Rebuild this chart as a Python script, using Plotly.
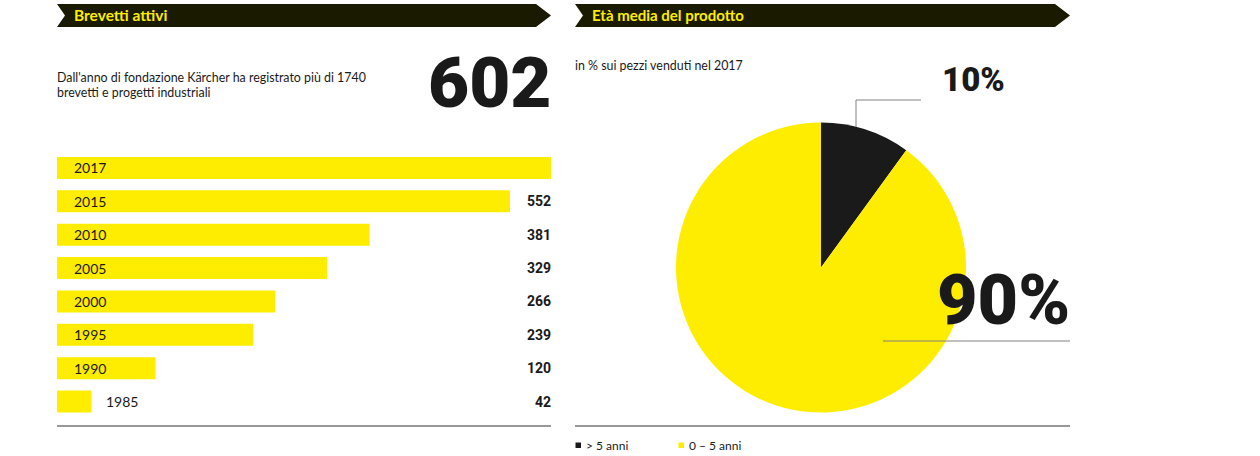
import plotly.graph_objects as go

years = ["2017", "2015", "2010", "2005", "2000", "1995", "1990", "1985"]
patents = [602, 552, 381, 329, 266, 239, 120, 42]
shown_values = ["", "552", "381", "329", "266", "239", "120", "42"]
age_labels = ["> 5 anni", "0 – 5 anni"]
age_shares = [10, 90]

W, H = 1260, 456
YELLOW, BLACK, HEAD = "#FFED00", "#1A1A1A", "#1A1A00"
TXT = "Lato, Roboto, sans-serif"
HEAVY = "Roboto, Lato, sans-serif"

def px(x): return x / W
def py(y): return 1 - y / H

fig = go.Figure()
fig.add_trace(go.Bar(y=years, x=patents, orientation="h", marker=dict(color=YELLOW, line_width=0),
                     hoverinfo="skip", showlegend=False))
fig.add_trace(go.Pie(labels=age_labels, values=age_shares, sort=False, direction="clockwise", rotation=0,
                     marker=dict(colors=[BLACK, YELLOW], line_width=0), textinfo="none",
                     domain=dict(x=[px(676), px(966)], y=[py(412.5), py(122.5)]),
                     showlegend=False, hoverinfo="skip"))

shapes, ann = [], []

def text(x, y, s, size, color=BLACK, anchor="left", family=TXT, weight=400):
    ann.append(dict(xref="paper", yref="paper", x=px(x), y=py(y), text=s, showarrow=False, xanchor=anchor,
                    yanchor="middle", borderpad=0, borderwidth=0,
                    font=dict(family=family, size=size, color=color, weight=weight)))

def line(x0, y0, x1, y1, color="#808080", width=1):
    shapes.append(dict(type="line", xref="paper", yref="paper", x0=px(x0), y0=py(y0), x1=px(x1), y1=py(y1),
                       line=dict(color=color, width=width)))

def banner(x0, x1, label, size):
    pts = [(x0, 4), (x1 - 15, 4), (x1, 15.5), (x1 - 15, 27), (x0, 27), (x0 + 8, 15.5)]
    path = "M " + " L ".join(f"{px(a):.5f} {py(b):.5f}" for a, b in pts) + " Z"
    shapes.append(dict(type="path", xref="paper", yref="paper", path=path, fillcolor=HEAD, line_width=0))
    text(x0 + 17, 15.5, label, size, YELLOW, weight=700)

banner(57, 551, "Brevetti attivi", 15.5)
banner(575, 1070, "Età media del prodotto", 15)

text(57, 77, "Dall'anno di fondazione Kärcher ha registrato più di 1740", 12.4)
text(57, 92.5, "brevetti e progetti industriali", 12.4)
text(551, 82, "602", 71, anchor="right", family=HEAVY, weight=900)
text(575, 65.5, "in % sui pezzi venduti nel 2017", 12.4)
text(1005, 79.5, "10%", 33, anchor="right", family=HEAVY, weight=900)
text(1070, 300, "90%", 70, anchor="right", family=HEAVY, weight=900)

line(856, 127, 856, 100)
line(856, 100, 921, 100)
line(883, 341, 1070, 341)
line(57, 426, 551, 426, "#333333", 1.2)
line(575, 426, 1070, 426, "#333333", 1.2)

for i, (yr, val, lab) in enumerate(zip(years, patents, shown_values)):
    ann.append(dict(xref="x", yref="y", x=0, y=i, text=yr, showarrow=False, xanchor="left", yanchor="middle",
                    borderpad=0, borderwidth=0, xshift=49 if val < 60 else 17,
                    font=dict(family=TXT, size=14, color=BLACK)))
    if lab:
        ann.append(dict(xref="paper", yref="y", x=px(551), y=i, text=lab, showarrow=False, xanchor="right",
                        yanchor="middle", borderpad=0, borderwidth=0,
                        font=dict(family=HEAVY, size=14, color=BLACK, weight=700)))

for x0, color, lab, tx in [(575, BLACK, age_labels[0], 586), (678, YELLOW, age_labels[1], 689)]:
    shapes.append(dict(type="rect", xref="paper", yref="paper", x0=px(x0 + 0.5), x1=px(x0 + 6), y0=py(448), y1=py(442.5),
                       fillcolor=color, line_width=0))
    text(tx, 445.5, lab, 12)

fig.update_layout(
    width=W, height=H, margin=dict(l=0, r=0, t=0, b=0), paper_bgcolor="white", plot_bgcolor="white",
    bargap=0.34, shapes=shapes, annotations=ann,
    xaxis=dict(domain=[px(57), px(551)], range=[0, 602], visible=False, fixedrange=True),
    yaxis=dict(domain=[py(418.2), py(151.3)], range=[7.5, -0.5], type="category", visible=False, fixedrange=True),
)
fig.write_html("out.html", config={"displayModeBar": False},
               post_script="document.body.style.margin='0';document.body.style.overflow='hidden';")
